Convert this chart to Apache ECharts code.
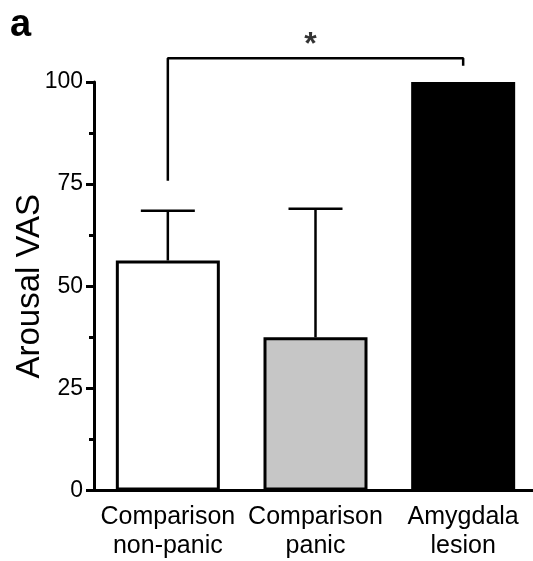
<!DOCTYPE html>
<html>
<head>
<meta charset="utf-8">
<script src="https://cdn.jsdelivr.net/npm/echarts@6/dist/echarts.min.js"></script>
<style>
  html, body { margin: 0; padding: 0; background: #fff; }
  #chart { width: 533px; height: 561px; }
</style>
</head>
<body>
<div id="chart"></div>
<script>
// data
var categories = ['Comparison\nnon-panic', 'Comparison\npanic', 'Amygdala\nlesion'];
var means = [56.3, 37.5, 100];
var upperErr = [68.5, 69, null];
var barColors = ['#ffffff', '#c6c6c6', '#000000'];
var yTicks = [0, 25, 50, 75, 100];
// significance bracket: [category index, value]
var bracket = [[0, 75.8], [0, 105.8], [2, 105.8], [2, 104]];
var starPoint = [[1, 110]];

var myChart = echarts.init(document.getElementById('chart'));
var font = '"Liberation Sans", Arial, sans-serif';

var errData = [];
upperErr.forEach(function (v, i) {
  if (v != null) errData.push([i, means[i], v]);
});

var option = {
  backgroundColor: '#fff',
  animation: false,
  title: {
    text: 'a',
    left: 10,
    top: 7,
    padding: 0,
    textStyle: { fontFamily: font, fontSize: 38, fontWeight: 'bold', color: '#000' }
  },
  grid: { left: 94, top: 82, width: 443, height: 408.5, outerBoundsMode: 'none', containLabel: false },
  xAxis: {
    type: 'category',
    data: categories,
    axisLine: { lineStyle: { color: '#000', width: 3 } },
    axisTick: { alignWithLabel: true, length: 8, lineStyle: { color: '#000', width: 3 } },
    axisLabel: { interval: 0, fontFamily: font, fontSize: 25, lineHeight: 29, color: '#000', margin: 12 }
  },
  yAxis: {
    type: 'value',
    min: yTicks[0],
    max: yTicks[yTicks.length - 1],
    interval: 25,
    name: 'Arousal VAS',
    nameLocation: 'middle',
    nameGap: 48,
    nameMoveOverlap: false,
    nameTextStyle: { fontFamily: font, fontSize: 33, color: '#000' },
    axisLine: { show: true, lineStyle: { color: '#000', width: 3 } },
    axisTick: { show: true, length: 8, lineStyle: { color: '#000', width: 3 } },
    minorTick: { show: true, splitNumber: 2, length: 5, lineStyle: { color: '#000', width: 3 } },
    splitLine: { show: false },
    axisLabel: { fontFamily: font, fontSize: 23, color: '#000', margin: 11 }
  },
  series: [
    {
      type: 'bar',
      barWidth: 104,
      data: means.map(function (v, i) {
        return { value: v, itemStyle: { color: barColors[i] } };
      }),
      itemStyle: { borderColor: '#000', borderWidth: 3 },
      z: 2
    },
    {
      type: 'custom',
      data: errData,
      z: 3,
      renderItem: function (params, api) {
        var x = api.value(0);
        var base = api.coord([x, api.value(1)]);
        var top = api.coord([x, api.value(2)]);
        var half = 27;
        return {
          type: 'group',
          children: [
            { type: 'line', shape: { x1: base[0], y1: base[1], x2: top[0], y2: top[1] },
              style: { stroke: '#000', lineWidth: 2.5 } },
            { type: 'line', shape: { x1: top[0] - half, y1: top[1], x2: top[0] + half, y2: top[1] },
              style: { stroke: '#000', lineWidth: 2.5 } }
          ]
        };
      }
    },
    {
      type: 'line',
      data: bracket,
      symbol: 'none',
      clip: false,
      lineStyle: { color: '#000', width: 2.5 },
      z: 4
    },
    {
      type: 'scatter',
      data: starPoint,
      symbolSize: 0,
      clip: false,
      label: {
        show: true,
        position: 'inside',
        formatter: '*',
        offset: [-5, 4],
        fontFamily: font,
        fontSize: 32,
        fontWeight: 'bold',
        color: '#000'
      }
    }
  ]
};

myChart.setOption(option);
</script>
</body>
</html>
